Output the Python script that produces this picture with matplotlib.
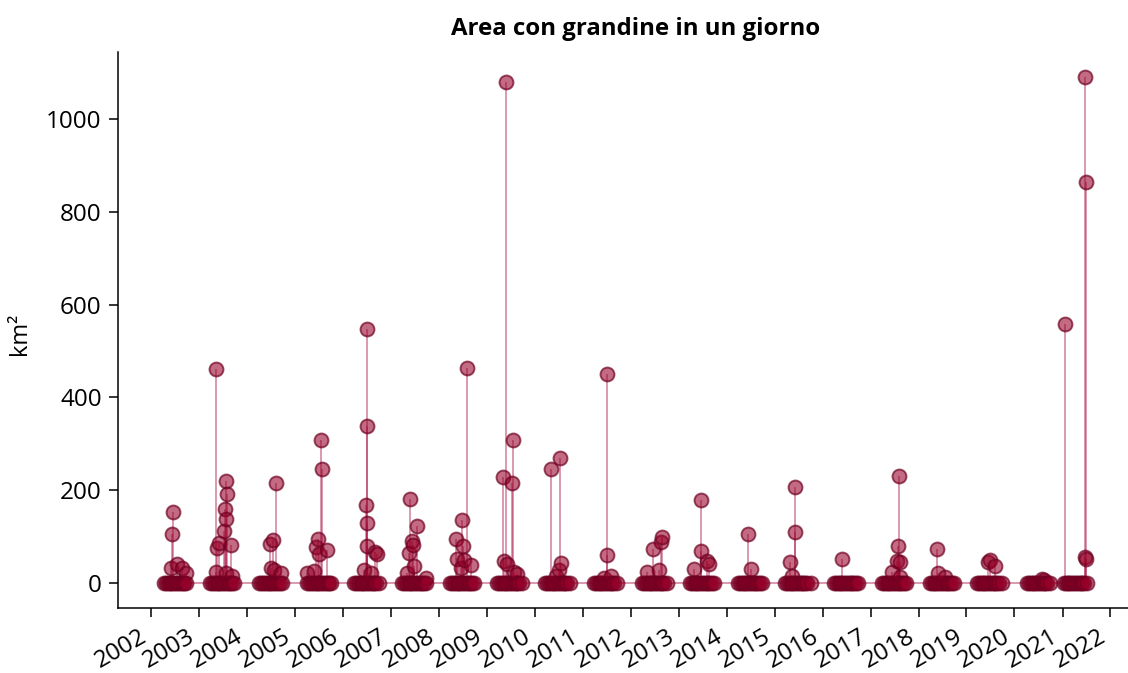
import pandas as pd
import matplotlib.pyplot as plt
import matplotlib.dates as mdates

plt.rcParams['font.family'] = ['Open Sans', 'DejaVu Sans']

# giorni con grandine: data e area colpita (km2)
event_dates = [
    '2002-06-22', '2002-06-09', '2002-06-05', '2002-07-17', '2002-08-29', '2002-09-25',
    '2003-05-10', '2003-07-24', '2003-08-01', '2003-07-20', '2003-07-27', '2003-07-11',
    '2003-05-23', '2003-09-01', '2003-06-03', '2003-05-14', '2003-07-30', '2003-09-08',
    '2004-08-08', '2004-07-22', '2004-06-27', '2004-07-02', '2004-07-27', '2004-09-16',
    '2005-07-17', '2005-07-30', '2005-06-27', '2005-06-09', '2005-07-04', '2005-09-06',
    '2005-04-05', '2005-05-28',
    '2006-07-02', '2006-07-01', '2006-06-29', '2006-07-06', '2006-07-04', '2006-09-01',
    '2006-09-20', '2006-06-10', '2006-08-01',
    '2007-05-28', '2007-07-17', '2007-06-14', '2007-06-22', '2007-05-20', '2007-06-27',
    '2007-05-08', '2007-09-23',
    '2008-08-01', '2008-06-29', '2008-05-10', '2008-07-01', '2008-05-23', '2008-07-11',
    '2008-09-01', '2008-06-17',
    '2009-05-25', '2009-05-08', '2009-07-23', '2009-07-15', '2009-05-12', '2009-06-02',
    '2009-07-27', '2009-08-22',
    '2010-05-08', '2010-07-09', '2010-07-17', '2010-07-07', '2010-06-15',
    '2011-07-02', '2011-07-07', '2011-06-10', '2011-08-05',
    '2012-08-29', '2012-08-17', '2012-06-22', '2012-05-08', '2012-08-04',
    '2013-06-17', '2013-06-20', '2013-08-06', '2013-08-19', '2013-04-27',
    '2014-06-14', '2014-07-09',
    '2015-06-04', '2015-06-06', '2015-04-27', '2015-05-15',
    '2016-05-31',
    '2017-08-04', '2017-08-01', '2017-08-11', '2017-07-23', '2017-06-14', '2017-08-13',
    '2018-05-23', '2018-05-26', '2018-07-24',
    '2019-07-02', '2019-06-15', '2019-08-08',
    '2020-07-30', '2020-08-10',
    '2021-01-23', '2021-06-24', '2021-06-25', '2021-06-27', '2021-06-22',
]
event_area = [
    152, 105, 32, 40, 32, 21,
    460, 219, 192, 158, 138, 111,
    75, 81, 86, 24, 21, 15,
    216, 93, 84, 32, 27, 21,
    308, 245, 95, 77, 63, 71,
    21, 25,
    548, 338, 167, 129, 79, 66,
    61, 28, 22,
    181, 122, 89, 82, 64, 35,
    20, 10,
    463, 136, 95, 79, 51, 50,
    38, 31,
    1080, 229, 308, 214, 46, 41,
    24, 19,
    245, 268, 43, 28, 15,
    450, 59, 10, 15,
    99, 87, 73, 23, 27,
    178, 68, 46, 40, 30,
    104, 30,
    207, 110, 44, 15,
    51,
    230, 80, 44, 46, 24, 13,
    73, 21, 12,
    50, 44, 37,
    8, 6,
    558, 1090, 865, 51, 55,
]

# giorni della stagione senza grandine (area = 0)
zero_dates = [
    '2002-04-12', '2002-04-26', '2002-05-10', '2002-05-24', '2002-06-07', '2002-06-21', '2002-07-05',
    '2002-07-19', '2002-08-02', '2002-08-16', '2002-08-30', '2002-09-13', '2002-09-27',
    '2003-03-29', '2003-04-12', '2003-04-26', '2003-05-10', '2003-05-24', '2003-06-07', '2003-06-21',
    '2003-07-05', '2003-07-19', '2003-08-02', '2003-08-16', '2003-08-30', '2003-09-13', '2003-09-27',
    '2004-04-06', '2004-04-20', '2004-05-04', '2004-05-18', '2004-06-01', '2004-06-15', '2004-06-29',
    '2004-07-13', '2004-07-27', '2004-08-10', '2004-08-24', '2004-09-07', '2004-09-27',
    '2005-04-06', '2005-04-20', '2005-05-04', '2005-05-18', '2005-06-01', '2005-06-15', '2005-06-29',
    '2005-07-13', '2005-07-27', '2005-08-10', '2005-08-24', '2005-09-07', '2005-09-21', '2005-10-04',
    '2006-03-29', '2006-04-12', '2006-04-26', '2006-05-10', '2006-05-24', '2006-06-07', '2006-06-21',
    '2006-07-05', '2006-07-19', '2006-08-02', '2006-08-16', '2006-08-30', '2006-09-13', '2006-10-04',
    '2007-03-29', '2007-04-12', '2007-04-26', '2007-05-10', '2007-05-24', '2007-06-07', '2007-06-21',
    '2007-07-05', '2007-07-19', '2007-08-02', '2007-08-16', '2007-08-30', '2007-09-13', '2007-09-27',
    '2008-03-29', '2008-04-12', '2008-04-26', '2008-05-10', '2008-05-24', '2008-06-07', '2008-06-21',
    '2008-07-05', '2008-07-19', '2008-08-02', '2008-08-16', '2008-08-30', '2008-09-13', '2008-09-27',
    '2009-03-22', '2009-04-05', '2009-04-19', '2009-05-03', '2009-05-17', '2009-05-31', '2009-06-14',
    '2009-06-28', '2009-07-12', '2009-07-26', '2009-08-09', '2009-08-23', '2009-09-06', '2009-09-27',
    '2010-03-22', '2010-04-05', '2010-04-19', '2010-05-03', '2010-05-17', '2010-05-31', '2010-06-14',
    '2010-06-28', '2010-07-12', '2010-07-26', '2010-08-09', '2010-08-23', '2010-09-06', '2010-09-27',
    '2011-03-29', '2011-04-12', '2011-04-26', '2011-05-10', '2011-05-24', '2011-06-07', '2011-06-21',
    '2011-07-05', '2011-07-19', '2011-08-02', '2011-08-16', '2011-08-30', '2011-09-20',
    '2012-03-29', '2012-04-12', '2012-04-26', '2012-05-10', '2012-05-24', '2012-06-07', '2012-06-21',
    '2012-07-05', '2012-07-19', '2012-08-02', '2012-08-16', '2012-08-30', '2012-09-13', '2012-10-01',
    '2013-03-29', '2013-04-12', '2013-04-26', '2013-05-10', '2013-05-24', '2013-06-07', '2013-06-21',
    '2013-07-05', '2013-07-19', '2013-08-02', '2013-08-16', '2013-08-30', '2013-09-13', '2013-09-27',
    '2014-03-29', '2014-04-12', '2014-04-26', '2014-05-10', '2014-05-24', '2014-06-07', '2014-06-21',
    '2014-07-05', '2014-07-19', '2014-08-02', '2014-08-16', '2014-08-30', '2014-09-13', '2014-09-27',
    '2015-03-22', '2015-04-05', '2015-04-19', '2015-05-03', '2015-05-17', '2015-05-31', '2015-06-14',
    '2015-06-28', '2015-07-12', '2015-07-26', '2015-08-09', '2015-08-23', '2015-09-06', '2015-10-04',
    '2016-03-29', '2016-04-12', '2016-04-26', '2016-05-10', '2016-05-24', '2016-06-07', '2016-06-21',
    '2016-07-05', '2016-07-19', '2016-08-02', '2016-08-16', '2016-08-30', '2016-09-13', '2016-09-27',
    '2017-03-29', '2017-04-12', '2017-04-26', '2017-05-10', '2017-05-24', '2017-06-07', '2017-06-21',
    '2017-07-05', '2017-07-19', '2017-08-02', '2017-08-16', '2017-08-30', '2017-09-13', '2017-09-27',
    '2018-03-29', '2018-04-12', '2018-04-26', '2018-05-10', '2018-05-24', '2018-06-07', '2018-06-21',
    '2018-07-05', '2018-07-19', '2018-08-02', '2018-08-16', '2018-08-30', '2018-09-13', '2018-09-27',
    '2019-03-22', '2019-04-05', '2019-04-19', '2019-05-03', '2019-05-17', '2019-05-31', '2019-06-14',
    '2019-06-28', '2019-07-12', '2019-07-26', '2019-08-09', '2019-08-23', '2019-09-06', '2019-09-27',
    '2020-04-06', '2020-04-20', '2020-05-04', '2020-05-18', '2020-06-01', '2020-06-15', '2020-06-29',
    '2020-07-13', '2020-07-27', '2020-08-10', '2020-08-24', '2020-09-07', '2020-09-27',
    '2021-01-12', '2021-01-26', '2021-02-09', '2021-02-23', '2021-03-09', '2021-03-23', '2021-04-06',
    '2021-04-20', '2021-05-04', '2021-05-18', '2021-06-01', '2021-06-15', '2021-07-05',
]

df = pd.DataFrame({'data': pd.to_datetime(event_dates + zero_dates),
                   'area': event_area + [0] * len(zero_dates)})
df = df.sort_values('data')

face = (150/255, 0, 40/255, 0.58)
edge = (110/255, 0, 34/255, 0.7)
stem = (170/255, 20/255, 70/255, 0.5)

fig = plt.figure(figsize=(11.28, 6.73), dpi=100)
ax = fig.add_axes([0.1046, 0.0966, 0.8998, 0.8261])

ax.vlines(df['data'], 0, df['area'], color=stem, linewidth=1.2, zorder=1)
ax.plot([df['data'].min(), df['data'].max()], [0, 0], color=stem, linewidth=1.2, zorder=1)
ax.plot(df['data'], df['area'], 'o', linestyle='none', markersize=10,
        markerfacecolor=face, markeredgecolor=edge, markeredgewidth=1.4, zorder=2)

ax.set_title('Area con grandine in un giorno', fontsize=17.3, fontweight='bold', pad=12, x=0.51)
ax.set_ylabel('km²', fontsize=17)
ax.yaxis.set_label_coords(-0.085, 0.493)

ax.xaxis.set_major_locator(mdates.YearLocator(1))
ax.xaxis.set_major_formatter(mdates.DateFormatter('%Y'))
plt.setp(ax.get_xticklabels(), rotation=30, ha='right')

ax.tick_params(labelsize=17.5, length=6.8, width=1.1, pad=4.9)
for side in ['top', 'right']:
    ax.spines[side].set_visible(False)
for side in ['left', 'bottom']:
    ax.spines[side].set_linewidth(1.1)

plt.savefig('out.png', dpi=100)
